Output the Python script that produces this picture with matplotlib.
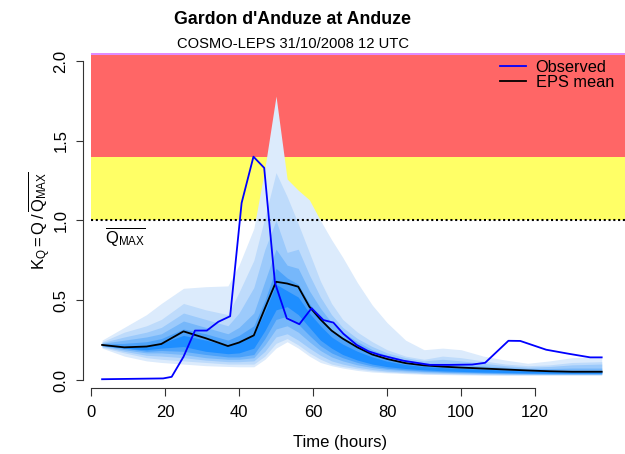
import matplotlib
matplotlib.use('Agg')
import matplotlib.pyplot as plt
from matplotlib.lines import Line2D

plt.rcParams['font.family'] = ['Liberation Sans', 'DejaVu Sans']
plt.rcParams['mathtext.fontset'] = 'custom'
plt.rcParams['mathtext.rm'] = 'Liberation Sans'
plt.rcParams['mathtext.it'] = 'Liberation Sans:italic'

# warning thresholds (K_Q)
thr_yellow = [1.0, 1.4]
thr_red = [1.4, 2.035]
thr_purple = [2.035, 2.06]

# ensemble time grid (hours) and quantile envelopes, outer -> inner
t_ens = [3, 9, 15, 19, 25, 31, 37, 40, 44, 47, 50, 53, 56, 59, 62, 65, 68, 72, 76, 80,
         85, 90, 95, 100, 106, 112, 118, 124, 130, 138]
b1_hi = [0.25, 0.33, 0.41, 0.48, 0.575, 0.585, 0.59, 0.72, 0.95, 1.33, 1.78, 1.26, 1.19, 1.13, 1.0, 0.88,
         0.77, 0.61, 0.47, 0.36, 0.25, 0.19, 0.2, 0.19, 0.15, 0.125, 0.105, 0.12, 0.14, 0.146]
b1_lo = [0.20, 0.15, 0.12, 0.11, 0.10, 0.09, 0.085, 0.083, 0.083, 0.13, 0.20, 0.24, 0.2, 0.15, 0.11, 0.09,
         0.075, 0.06, 0.05, 0.045, 0.04, 0.036, 0.034, 0.032, 0.03, 0.03, 0.03, 0.03, 0.03, 0.03]
b2_hi = [0.24, 0.30, 0.34, 0.38, 0.48, 0.44, 0.41, 0.55, 0.75, 1.02, 1.30, 1.15, 0.98, 0.80, 0.62, 0.48,
         0.38, 0.30, 0.24, 0.19, 0.15, 0.13, 0.15, 0.14, 0.12, 0.1, 0.09, 0.095, 0.11, 0.115]
b2_lo = [0.205, 0.17, 0.14, 0.13, 0.12, 0.11, 0.10, 0.10, 0.10, 0.15, 0.23, 0.26, 0.22, 0.17, 0.13, 0.10,
         0.085, 0.07, 0.058, 0.05, 0.045, 0.04, 0.038, 0.036, 0.034, 0.033, 0.033, 0.033, 0.033, 0.033]
b3_hi = [0.235, 0.27, 0.30, 0.33, 0.42, 0.38, 0.34, 0.42, 0.58, 0.82, 1.0, 0.80, 0.82, 0.66, 0.52, 0.41,
         0.33, 0.26, 0.21, 0.17, 0.14, 0.12, 0.13, 0.12, 0.105, 0.09, 0.08, 0.085, 0.095, 0.1]
b3_lo = [0.21, 0.18, 0.155, 0.15, 0.14, 0.125, 0.115, 0.115, 0.12, 0.18, 0.27, 0.29, 0.25, 0.2, 0.155, 0.12,
         0.10, 0.08, 0.066, 0.056, 0.05, 0.045, 0.042, 0.04, 0.038, 0.036, 0.035, 0.035, 0.035, 0.035]
b4_hi = [0.23, 0.25, 0.27, 0.29, 0.37, 0.33, 0.29, 0.33, 0.42, 0.62, 0.82, 0.72, 0.70, 0.56, 0.45, 0.36,
         0.30, 0.24, 0.19, 0.155, 0.125, 0.105, 0.1, 0.095, 0.088, 0.08, 0.072, 0.072, 0.075, 0.075]
b4_lo = [0.215, 0.19, 0.17, 0.17, 0.16, 0.14, 0.13, 0.13, 0.14, 0.22, 0.32, 0.34, 0.30, 0.24, 0.185, 0.145,
         0.12, 0.095, 0.078, 0.066, 0.058, 0.052, 0.048, 0.045, 0.042, 0.04, 0.038, 0.037, 0.037, 0.037]
b5_hi = [0.225, 0.23, 0.24, 0.26, 0.32, 0.29, 0.25, 0.28, 0.34, 0.50, 0.70, 0.64, 0.60, 0.48, 0.39, 0.31,
         0.26, 0.21, 0.165, 0.135, 0.11, 0.095, 0.088, 0.083, 0.077, 0.07, 0.064, 0.06, 0.058, 0.058]
b5_lo = [0.215, 0.20, 0.18, 0.185, 0.18, 0.16, 0.145, 0.145, 0.16, 0.26, 0.38, 0.40, 0.35, 0.28, 0.215, 0.17,
         0.14, 0.11, 0.088, 0.074, 0.064, 0.057, 0.052, 0.049, 0.046, 0.043, 0.041, 0.04, 0.04, 0.04]
b6_hi = [0.22, 0.21, 0.215, 0.23, 0.28, 0.25, 0.215, 0.24, 0.28, 0.43, 0.6, 0.56, 0.52, 0.42, 0.34, 0.27,
         0.225, 0.18, 0.145, 0.118, 0.097, 0.085, 0.078, 0.073, 0.068, 0.062, 0.057, 0.053, 0.051, 0.051]
b6_lo = [0.218, 0.20, 0.19, 0.20, 0.21, 0.18, 0.165, 0.17, 0.2, 0.31, 0.44, 0.46, 0.41, 0.33, 0.25, 0.2,
         0.16, 0.125, 0.1, 0.084, 0.072, 0.064, 0.058, 0.054, 0.05, 0.047, 0.045, 0.044, 0.043, 0.043]
eps_mean = [0.22, 0.205, 0.21, 0.226, 0.305, 0.262, 0.213, 0.235, 0.28, 0.45, 0.616, 0.605, 0.585, 0.46,
            0.38, 0.31, 0.26, 0.205, 0.16, 0.132, 0.106, 0.092, 0.084, 0.078, 0.072, 0.066, 0.06, 0.055,
            0.052, 0.052]

# observed discharge ratio
obs_t = [3, 19.5, 21.8, 25, 28.1, 31.3, 34.4, 37.6, 40.7, 43.9, 46.8, 49.7, 52.9, 56.3, 59.6, 62.8,
         65.5, 68.2, 71.8, 75, 78.1, 84.4, 91.6, 97, 103, 106.5, 112.8, 116, 123, 129, 134.9, 138]
obs_v = [0.005, 0.01, 0.02, 0.146, 0.31, 0.31, 0.365, 0.40, 1.11, 1.40, 1.33, 0.61, 0.387, 0.35, 0.45,
         0.376, 0.36, 0.29, 0.22, 0.18, 0.157, 0.121, 0.095, 0.095, 0.097, 0.108, 0.246, 0.245, 0.19,
         0.165, 0.142, 0.142]

bands = [(b1_lo, b1_hi, '#DCEBFC'), (b2_lo, b2_hi, '#BEDBFB'), (b3_lo, b3_hi, '#9CCAFB'),
         (b4_lo, b4_hi, '#76B7FA'), (b5_lo, b5_hi, '#4CA2FA'), (b6_lo, b6_hi, '#1E8EFF')]

fig = plt.figure(figsize=(6.25, 4.54), dpi=100)
ax = fig.add_axes([82.7 / 625, 66 / 454, (625 - 82.7) / 625, (388 - 53) / 454])
ax.set_xlim(-2.24, 144.3)
ax.set_ylim(-0.05, 2.05)

# warning areas
xr = [0, 150]
ax.fill_between(xr, thr_yellow[0], thr_yellow[1], color='#FFFF66', lw=0)
ax.fill_between(xr, thr_red[0], thr_red[1], color='#FF6666', lw=0)
ax.fill_between(xr, thr_purple[0], thr_purple[1], color='#E08CFF', lw=0)

for lo, hi, c in bands:
    ax.fill_between(t_ens, lo, hi, color=c, lw=0)

ax.hlines(thr_yellow[0], 0, 150, colors='black', linestyles=(0, (1, 1.3)), lw=1.5)

ax.plot(t_ens, eps_mean, color='black', lw=1.3)
ax.plot(obs_t, obs_v, color='#0000FF', lw=1.3)

ax.text(3.8, 0.9, r'$\overline{\mathrm{Q_{MAX}}}$', fontsize=12, ha='left', va='center')

for s in ['top', 'right']:
    ax.spines[s].set_visible(False)
ax.spines['bottom'].set_bounds(0, 120)
ax.spines['left'].set_bounds(0, 2)
for s in ['bottom', 'left']:
    ax.spines[s].set_color('#333333')
    ax.spines[s].set_linewidth(0.8)

ax.set_xticks([0, 20, 40, 60, 80, 100, 120])
ax.set_yticks([0.0, 0.5, 1.0, 1.5, 2.0])
ax.set_yticklabels(['0.0', '0.5', '1.0', '1.5', '2.0'])
ax.tick_params(length=5.4, width=0.8, color='#333333', labelsize=12, pad=5)
ax.tick_params(axis='x', pad=7)
plt.setp(ax.get_yticklabels(), rotation=90, va='center')

fig.text(293 / 625, 1 - 19 / 454, "Gardon d'Anduze at Anduze", fontsize=12.8, fontweight='bold',
         ha='center', va='center')
fig.text(293 / 625, 1 - 44.5 / 454, 'COSMO-LEPS 31/10/2008 12 UTC', fontsize=10.6,
         ha='center', va='center')
fig.text(340 / 625, 1 - 442 / 454, 'Time (hours)', fontsize=12, ha='center', va='center')
fig.text(40 / 625, 1 - 221 / 454, r'$\mathrm{K_Q = Q\,/\,\overline{Q_{MAX}}}$', fontsize=12,
         rotation=90, ha='center', va='center')

handles = [Line2D([], [], color='#0000FF', lw=1.3), Line2D([], [], color='black', lw=1.3)]
ax.legend(handles, ['Observed', 'EPS mean'], loc='upper right',
          bbox_to_anchor=(614 / 625, 1 - 60 / 454), bbox_transform=fig.transFigure,
          frameon=False, fontsize=11.8, handlelength=1.6, handletextpad=0.6,
          labelspacing=0.0, borderpad=0, borderaxespad=0)

fig.savefig('out.png', dpi=100)
